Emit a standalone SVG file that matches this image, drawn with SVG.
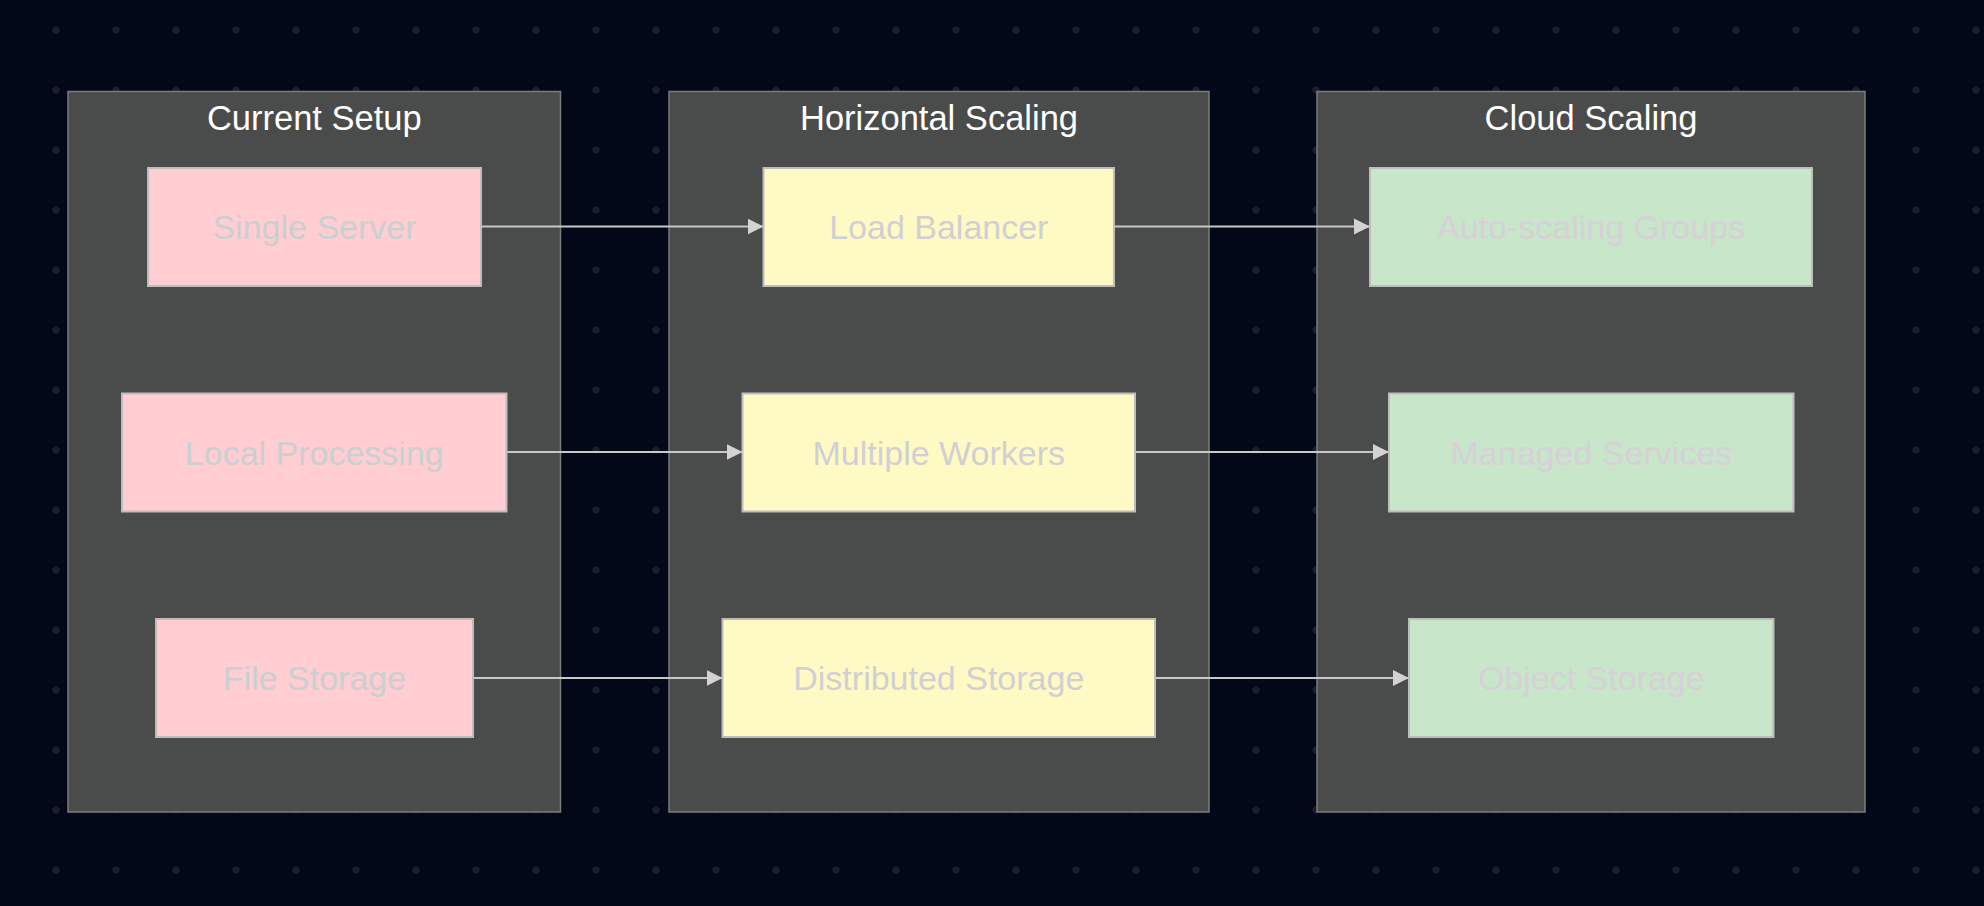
<svg xmlns="http://www.w3.org/2000/svg" width="1984" height="906" viewBox="0 0 1984 906">
<defs>
<pattern id="dots" patternUnits="userSpaceOnUse" x="26" y="0" width="60" height="60">
<circle cx="30" cy="30" r="3.6" fill="#1b1f2b"/>
</pattern>
<marker id="arrow" markerUnits="userSpaceOnUse" markerWidth="18" markerHeight="18" refX="16" refY="8" orient="auto" viewBox="0 0 18 16">
<path d="M0,0 L16,8 L0,16 Z" fill="#d3d3d3"/>
</marker>
<style>
.cluster rect{fill:#4a4b4b;stroke:#7b7b7d;stroke-width:1.5}
.title{font-family:"Trebuchet MS","Liberation Sans",Arial,sans-serif;font-size:34.5px;fill:#ffffff;text-anchor:middle}
.node rect{stroke:#bdbdbd;stroke-width:2}
.node text{font-family:"Trebuchet MS","Liberation Sans",Arial,sans-serif;font-size:34px;text-anchor:middle}
.pink rect{fill:#ffcdd2}.pink text{fill:#c9d0d1}
.yellow rect{fill:#fff9c4}.yellow text{fill:#d0d0d4}
.green rect{fill:#c8e6c9}.green text{fill:#d7d0d8}
.edge{stroke:#c8c8c8;stroke-width:2;fill:none}
</style>
</defs>
<rect width="1984" height="906" fill="#020817"/>
<rect width="1984" height="906" fill="url(#dots)"/>

<g id="cluster-current" class="cluster">
<rect x="68" y="91.5" width="492.5" height="720.5"/>
<text class="title" x="314.3" y="130">Current Setup</text>
</g>
<g id="cluster-horizontal" class="cluster">
<rect x="669" y="91.5" width="540" height="720.5"/>
<text class="title" x="939" y="130">Horizontal Scaling</text>
</g>
<g id="cluster-cloud" class="cluster">
<rect x="1317" y="91.5" width="548" height="720.5"/>
<text class="title" x="1591" y="130">Cloud Scaling</text>
</g>

<g id="connectors">
<line class="edge" x1="481" y1="226.5" x2="763.5" y2="226.5" marker-end="url(#arrow)"/>
<line class="edge" x1="506.5" y1="452" x2="742.5" y2="452" marker-end="url(#arrow)"/>
<line class="edge" x1="473" y1="678" x2="722.5" y2="678" marker-end="url(#arrow)"/>
<line class="edge" x1="1114" y1="226.5" x2="1370" y2="226.5" marker-end="url(#arrow)"/>
<line class="edge" x1="1135" y1="452" x2="1389" y2="452" marker-end="url(#arrow)"/>
<line class="edge" x1="1155" y1="678" x2="1409" y2="678" marker-end="url(#arrow)"/>
</g>

<g id="node-single-server" class="node pink">
<rect x="148" y="168" width="333" height="118"/>
<text x="314.5" y="239">Single Server</text>
</g>
<g id="node-local-processing" class="node pink">
<rect x="122" y="393.5" width="384.5" height="118"/>
<text x="314.3" y="464.5">Local Processing</text>
</g>
<g id="node-file-storage" class="node pink">
<rect x="156" y="619" width="317" height="118"/>
<text x="314.5" y="690">File Storage</text>
</g>

<g id="node-load-balancer" class="node yellow">
<rect x="763.5" y="168" width="350.5" height="118"/>
<text x="938.8" y="239">Load Balancer</text>
</g>
<g id="node-multiple-workers" class="node yellow">
<rect x="742.5" y="393.5" width="392.5" height="118"/>
<text x="938.8" y="464.5">Multiple Workers</text>
</g>
<g id="node-distributed-storage" class="node yellow">
<rect x="722.5" y="619" width="432.5" height="118"/>
<text x="938.8" y="690">Distributed Storage</text>
</g>

<g id="node-auto-scaling" class="node green">
<rect x="1370" y="168" width="442" height="118"/>
<text x="1591" y="239">Auto-scaling Groups</text>
</g>
<g id="node-managed-services" class="node green">
<rect x="1389" y="393.5" width="404.5" height="118"/>
<text x="1591.3" y="464.5">Managed Services</text>
</g>
<g id="node-object-storage" class="node green">
<rect x="1409" y="619" width="364.5" height="118"/>
<text x="1591.3" y="690">Object Storage</text>
</g>
</svg>
